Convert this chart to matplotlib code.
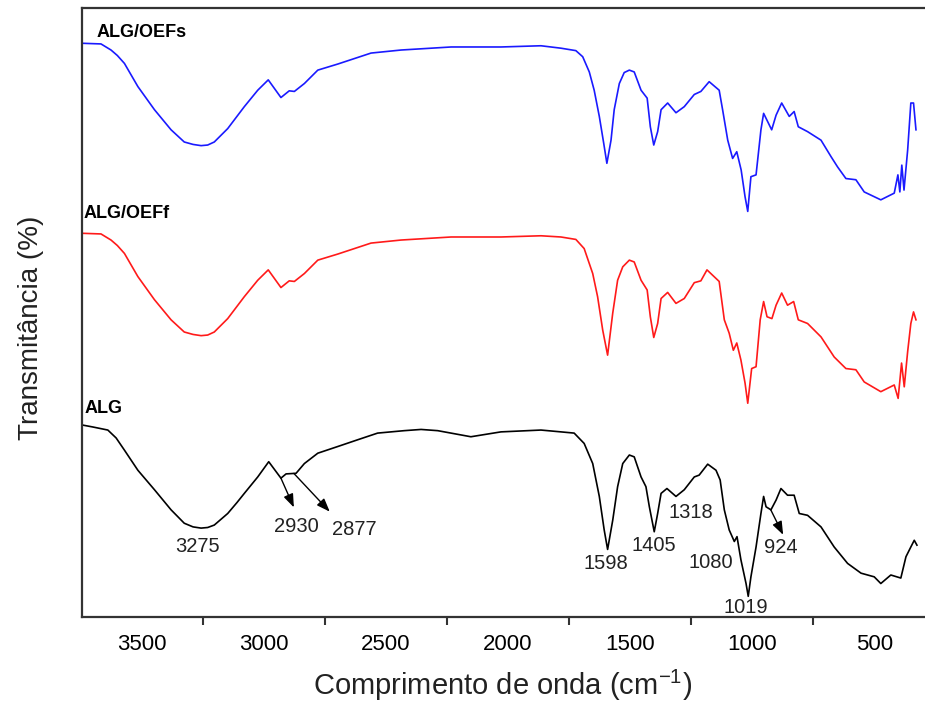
import matplotlib.pyplot as plt
import numpy as np

# FTIR spectra (wavenumber in cm-1, transmittance in a.u.)
wn_alg = [3740, 3700, 3639, 3605, 3571, 3516, 3448, 3380, 3326, 3290,
          3257, 3230, 3203, 3148, 3110, 3080, 3025, 2980, 2930, 2909,
          2868, 2834, 2779, 2697, 2616, 2534, 2425, 2356, 2288, 2152,
          2029, 1865, 1783, 1729, 1688, 1653, 1626, 1606, 1592, 1571,
          1551, 1530, 1503, 1483, 1455, 1435, 1421, 1401, 1387, 1373,
          1349, 1312, 1278, 1237, 1217, 1182, 1148, 1131, 1114, 1094,
          1073, 1062, 1046, 1025, 1016, 1005, 984, 964, 953, 943,
          923, 902, 882, 855, 828, 807, 773, 718, 664, 609,
          554, 500, 473, 432, 391, 370, 350, 336, 325]
t_alg = [31.5, 31.2, 30.7, 29.4, 27.4, 24.1, 20.9, 17.6, 15.4, 14.8,
         14.6, 14.7, 15.1, 17.0, 18.8, 20.3, 23.0, 25.5, 22.8, 23.5,
         23.6, 25.2, 26.9, 28.0, 29.1, 30.2, 30.6, 30.8, 30.6, 29.6,
         30.4, 30.7, 30.4, 30.2, 28.5, 25.2, 19.8, 14.3, 11.1, 15.9,
         21.4, 25.2, 26.6, 26.3, 23.0, 21.4, 18.1, 14.0, 17.0, 20.3,
         21.1, 19.8, 20.9, 23.0, 23.3, 25.1, 24.1, 22.5, 17.6, 14.3,
         12.4, 13.2, 9.4, 5.5, 3.4, 6.6, 11.5, 17.0, 19.8, 18.1,
         17.6, 19.2, 21.1, 20.0, 20.0, 17.0, 16.7, 14.8, 11.5, 8.8,
         7.2, 6.6, 5.5, 6.9, 6.4, 9.9, 11.5, 12.6, 11.8]

wn_oefs = [3739, 3667, 3626, 3600, 3571, 3516, 3448, 3380, 3326, 3290,
           3257, 3230, 3203, 3148, 3080, 3025, 2982, 2930, 2896, 2875,
           2834, 2779, 2697, 2561, 2438, 2233, 2029, 1865, 1783, 1722,
           1694, 1667, 1647, 1626, 1608, 1595, 1578, 1565, 1544, 1524,
           1503, 1483, 1455, 1430, 1417, 1403, 1387, 1373, 1346, 1312,
           1278, 1237, 1210, 1176, 1135, 1121, 1100, 1080, 1063, 1045,
           1029, 1018, 1005, 984, 964, 953, 920, 902, 879, 848,
           828, 811, 773, 718, 677, 650, 616, 575, 541, 473,
           418, 403, 395, 387, 378, 363, 350, 339, 329]
t_oefs = [94.2, 94.1, 93.1, 92.2, 90.9, 87.1, 83.3, 80.0, 78.0, 77.6,
          77.4, 77.5, 78.0, 80.2, 83.8, 86.5, 88.2, 85.3, 86.4, 86.3,
          87.6, 89.8, 90.8, 92.6, 93.1, 93.6, 93.6, 93.8, 93.4, 93.0,
          92.0, 89.5, 86.5, 82.2, 77.8, 74.5, 78.3, 83.3, 87.6, 89.4,
          89.8, 89.5, 86.5, 85.2, 80.5, 77.5, 79.7, 83.3, 84.4, 82.8,
          83.8, 85.8, 86.3, 87.9, 86.5, 83.3, 78.3, 75.3, 76.4, 73.4,
          69.0, 66.6, 72.3, 72.6, 80.0, 82.7, 80.0, 82.4, 84.4, 82.2,
          83.0, 80.5, 79.7, 78.3, 75.6, 73.9, 72.0, 71.8, 69.8, 68.5,
          69.6, 72.6, 69.8, 74.2, 70.1, 76.7, 84.4, 84.4, 80.0]

wn_oeff = [3739, 3667, 3626, 3600, 3571, 3516, 3448, 3380, 3326, 3290,
           3257, 3230, 3203, 3148, 3080, 3025, 2982, 2930, 2896, 2875,
           2834, 2779, 2697, 2561, 2438, 2233, 2029, 1865, 1783, 1722,
           1688, 1653, 1633, 1612, 1592, 1571, 1551, 1530, 1503, 1483,
           1455, 1430, 1417, 1403, 1387, 1373, 1346, 1312, 1278, 1237,
           1210, 1185, 1135, 1114, 1094, 1077, 1063, 1046, 1029, 1018,
           1002, 984, 967, 953, 939, 919, 902, 879, 855, 830,
           811, 773, 718, 664, 616, 575, 541, 473, 418, 402,
           388, 377, 363, 350, 339, 329]
t_oeff = [63.0, 62.9, 61.9, 61.0, 59.7, 55.9, 52.1, 48.8, 46.8, 46.4,
          46.2, 46.3, 46.8, 49.0, 52.6, 55.3, 57.0, 54.1, 55.2, 55.1,
          56.4, 58.6, 59.6, 61.4, 61.9, 62.4, 62.4, 62.6, 62.4, 62.0,
          60.5, 56.4, 52.6, 47.1, 43.0, 49.9, 55.3, 57.5, 58.6, 58.3,
          55.3, 53.7, 49.3, 45.9, 48.2, 52.3, 53.3, 51.5, 52.3, 54.9,
          55.2, 57.0, 55.1, 48.8, 46.6, 43.8, 45.0, 42.2, 38.4, 35.1,
          40.8, 41.1, 48.8, 51.8, 49.3, 49.0, 51.2, 53.2, 51.2, 51.8,
          48.8, 48.2, 46.0, 42.7, 40.8, 40.6, 38.6, 37.0, 38.1, 35.9,
          41.7, 37.8, 43.6, 48.2, 50.1, 48.8]

series_names = ["ALG/OEFs", "ALG/OEFf", "ALG"]
tick_values = [3500, 3000, 2500, 2000, 1500, 1000, 500]

# band labels on the ALG curve: text, text position (wn, T)
band_labels = ["3275", "2930", "2877", "1598", "1405", "1318", "1080", "1019", "924"]
band_text_pos = [(3271, 11.5), (2866, 14.9), (2630, 14.4), (1600, 8.8),
                 (1402, 11.7), (1250, 17.2), (1168, 8.9), (1026, 1.6), (883, 11.4)]
# arrows: start wavenumber on curve -> end point
arrow_from = [2930, 2877, 924]
arrow_to = [(2877, 18.0), (2730, 17.3), (873, 13.5)]

plt.rcParams["font.family"] = ["Liberation Sans", "DejaVu Sans"]
plt.rcParams["mathtext.fontset"] = "custom"
plt.rcParams["mathtext.rm"] = "Liberation Sans"

fig = plt.figure(figsize=(9.25, 7.08), dpi=100)
ax = fig.add_axes([0.0886, 0.1285, 0.9114, 0.8602])

lw = 1.2
ax.plot(wn_oefs, t_oefs, color="#1a1aff", lw=lw)
ax.plot(wn_oeff, t_oeff, color="#ff1a1a", lw=lw)
ax.plot(wn_alg, t_alg, color="black", lw=lw)

ax.set_xlim(3745, 292)
ax.set_ylim(0, 100)

# series labels
ax.text(3685, 95.9, series_names[0], fontsize=13, fontweight="bold", va="center", ha="left")
ax.text(3737, 66.3, series_names[1], fontsize=13, fontweight="bold", va="center", ha="left")
ax.text(3733, 34.2, series_names[2], fontsize=13, fontweight="bold", va="center", ha="left")

for lab, (x, y) in zip(band_labels, band_text_pos):
    ax.text(x, y, lab, fontsize=14.5, ha="center", va="center", color="#222222")

for w0, (x1, y1) in zip(arrow_from, arrow_to):
    y0 = np.interp(w0, wn_alg[::-1], t_alg[::-1])
    ax.annotate("", xy=(x1, y1), xytext=(w0, y0),
                arrowprops=dict(arrowstyle="-|>,head_length=0.8,head_width=0.3",
                                color="black", lw=1.0, shrinkA=0, shrinkB=0))

# axis styling: labels at round values, tick marks half-way between
ax.set_xticks(tick_values)
ax.set_xticks([3250, 2750, 2250, 1750, 1250, 750], minor=True)
ax.tick_params(axis="x", which="major", length=0, labelsize=16, pad=12)
ax.tick_params(axis="x", which="minor", length=6, width=1.5, direction="out", color="#333333")
ax.set_yticks([])

for side in ["left", "bottom", "top"]:
    ax.spines[side].set_linewidth(1.6)
    ax.spines[side].set_color("#333333")
ax.spines["right"].set_visible(False)

fig.text(0.5438, 0.0325, "Comprimento de onda (cm$^{\\mathregular{-1}}$)", fontsize=21,
         ha="center", va="center", color="#222222")
fig.text(0.0335, 0.537, "Transmitância (%)", fontsize=20, rotation=90,
         ha="center", va="center", color="#222222")

fig.savefig("out.png", dpi=100)
